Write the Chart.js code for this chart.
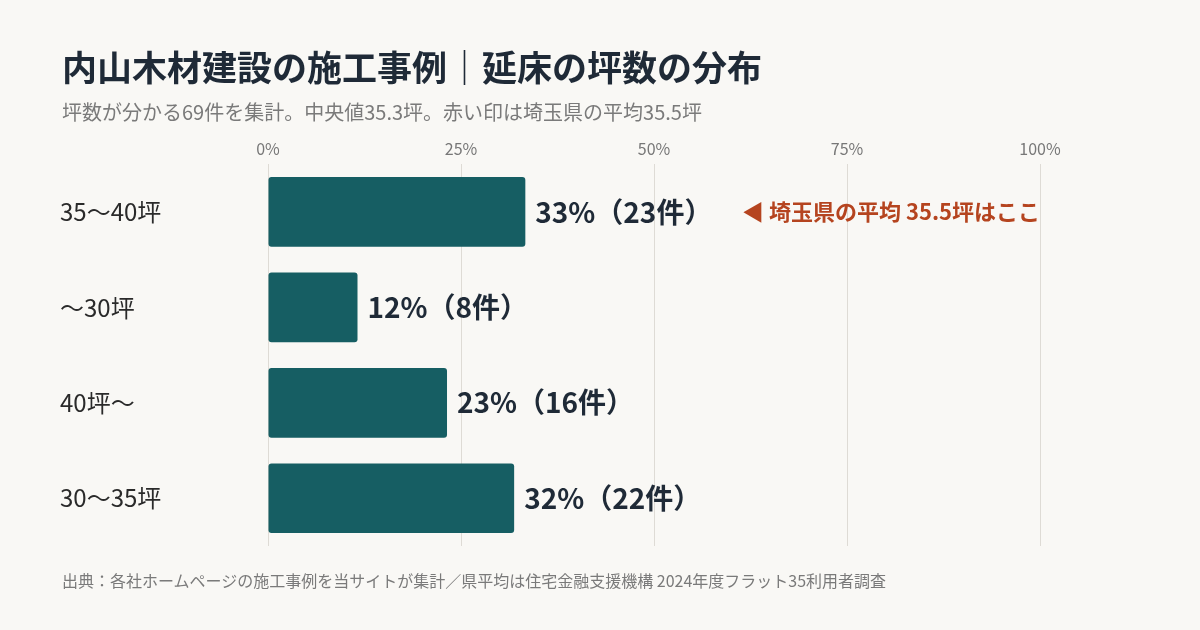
<!DOCTYPE html>
<html><head><meta charset="utf-8">
<script src="https://cdn.jsdelivr.net/npm/chart.js@4/dist/chart.umd.min.js"></script>
<style>
body{margin:0;background:#f9f8f5;font-family:"Noto Sans CJK JP","Noto Sans",sans-serif;}
#wrap{position:relative;width:1200px;height:630px;}
#t{position:absolute;left:62px;top:40px;font-size:35px;font-weight:bold;color:#1f2a37;}
#s{position:absolute;left:62px;top:97px;font-size:20px;color:#7a7a7a;}
#f{position:absolute;left:62px;top:568px;font-size:16px;color:#7a7a7a;}
canvas{position:absolute;left:0;top:0;}
</style></head><body>
<div id="wrap">
<canvas id="c" width="1200" height="630"></canvas>
<div id="t">内山木材建設の施工事例｜延床の坪数の分布</div>
<div id="s">坪数が分かる69件を集計。中央値35.3坪。赤い印は埼玉県の平均35.5坪</div>
<div id="f">出典：各社ホームページの施工事例を当サイトが集計／県平均は住宅金融支援機構 2024年度フラット35利用者調査</div>
</div>
<script>
const categories=["35〜40坪","〜30坪","40坪〜","30〜35坪"];
const counts=[23,8,16,22];
const total=69;
const percents=counts.map(c=>c/total*100);
const tickValues=[0,25,50,75,100];
const note="◀ 埼玉県の平均 35.5坪はここ";
const font='"Noto Sans CJK JP","Noto Sans",sans-serif';
const plug={id:'lab',afterDatasetsDraw(ch){
 const ctx=ch.ctx,xs=ch.scales.x,ys=ch.scales.y;
 ctx.save();ctx.textBaseline='middle';
 categories.forEach((c,i)=>{
  const y=ys.getPixelForValue(i);
  ctx.font='24px '+font;ctx.fillStyle='#2a2a2a';ctx.textAlign='left';
  ctx.fillText(c,60,y);
  const x=xs.getPixelForValue(percents[i]);
  ctx.font='bold 28px '+font;ctx.fillStyle='#1f2a37';
  const txt=Math.round(percents[i])+'%（'+counts[i]+'件）';
  ctx.fillText(txt,x+10,y);
  if(i===0){ctx.font='bold 22px '+font;ctx.fillStyle='#b5441f';ctx.fillText(note,742,y);}
 });
 ctx.restore();}};
new Chart(document.getElementById('c'),{type:'bar',
data:{labels:categories,datasets:[{data:percents,backgroundColor:'#165e63',borderRadius:3,borderSkipped:false,categoryPercentage:1,barPercentage:0.73}]},
options:{indexAxis:'y',responsive:false,animation:false,
layout:{padding:{left:260,right:160,top:133,bottom:84}},
plugins:{legend:{display:false},tooltip:{enabled:false}},
scales:{x:{position:'top',min:0,max:100,afterBuildTicks(a){a.ticks=tickValues.map(v=>({value:v}));},
 ticks:{callback:v=>v+'%',color:'#777',font:{size:16,family:font},padding:6},
 grid:{color:'#dedbd5',drawTicks:false},border:{display:false}},
 y:{ticks:{display:false},grid:{display:false},border:{display:false}}}},
plugins:[plug]});
</script></body></html>
